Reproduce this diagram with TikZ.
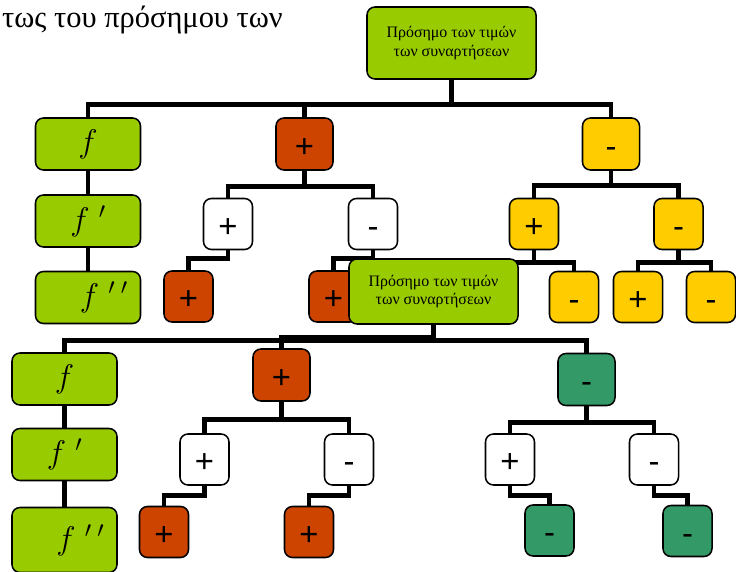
\documentclass[tikz,border=0pt]{standalone}
\usepackage{fix-cm}
\usepackage{amsmath}
\usepackage{fontspec}
\setmainfont{Liberation Serif}
\newfontfamily\signfont{Liberation Sans}
\usepackage{tikz}
\usetikzlibrary{positioning}
\usepackage{xcolor}
\definecolor{leafgreen}{RGB}{153,204,0}
\definecolor{brickred}{RGB}{204,68,0}
\definecolor{signyellow}{RGB}{255,204,0}
\definecolor{seagreen}{RGB}{51,153,102}

\begin{document}
\begin{tikzpicture}[x=0.03cm, y=-0.03cm,
  conn/.style={line width=4.2pt},
  rbox/.style={draw=black, line width=1.3pt, rounded corners=0.24cm, inner sep=0pt},
  rootbox/.style={rbox, fill=leafgreen, minimum width=5.07cm, align=center, font=\fontsize{13.6}{16}\selectfont},
  funbox/.style={rbox, fill=leafgreen, minimum width=3.15cm, minimum height=1.56cm, font=\fontsize{28}{30}\selectfont},
  bigsign/.style={rbox, minimum width=1.71cm, minimum height=1.56cm, font=\signfont\fontsize{28}{30}\selectfont, text height=22.4pt, text depth=0pt},
  smallsign/.style={bigsign, minimum width=1.47cm, minimum height=1.53cm}]

\clip (0,0) rectangle (736,572);

\node[anchor=base west, font=\fontsize{26}{30}\selectfont] (title) at (-2,28) {τως του πρόσημου των};


\begin{scope}
% first tree
\node[rootbox, minimum height=2.16cm] (rootA) at (451.5,43) {Πρόσημο των τιμών\\των συναρτήσεων};

\node[funbox] (fA) at (88,144) {$f$};
\node[funbox] (fpA) at (88,221) {$f\;'$};
\node[funbox] (fppA) at (88,297.5) {\hspace*{0.95cm}$f\;'\,{}'$};

\node[bigsign, fill=brickred] (plusA) at (304.5,144) {+};
\node[bigsign, fill=signyellow] (minusA) at (611,144) {-};

\node[smallsign, fill=white] (pwA) at (228,224) {+};
\node[smallsign, fill=white] (mwA) at (373,224) {-};
\node[smallsign, fill=signyellow] (pyA) at (534,224) {+};
\node[smallsign, fill=signyellow] (myA) at (678.5,224) {-};

\node[smallsign, fill=brickred] (prA) at (188.5,296.5) {+};
\node[smallsign, fill=brickred] (prAA) at (333.5,296.5) {+};
\node[smallsign, fill=signyellow] (myB) at (574,297) {-};
\node[smallsign, fill=signyellow] (pyB) at (638,297) {+};
\node[smallsign, fill=signyellow] (myC) at (711,297) {-};

\draw[conn] (rootA.south) -- ++(0,25) -| (fA.north);
\draw[conn] (rootA.south) -- ++(0,25) -| (plusA.north);
\draw[conn] (rootA.south) -- ++(0,25) -| (minusA.north);
\draw[conn] (fA) -- (fpA);
\draw[conn] (fpA) -- (fppA);

\draw[conn] (plusA.south) -- ++(0,16) -| (pwA.north);
\draw[conn] (plusA.south) -- ++(0,16) -| (mwA.north);
\draw[conn] (minusA.south) -- ++(0,15) -| (pyA.north);
\draw[conn] (minusA.south) -- ++(0,15) -| (myA.north);

\draw[conn] (pwA.south) -- ++(0,8) -| (prA.north);
\draw[conn] (mwA.south) -- ++(0,8) -| (prAA.north);
\draw[conn] (pyA.south) -- ++(0,12.5) coordinate (yfork) -| (myB.north);
\draw[conn] (yfork) -- ++(-30,0);
\draw[conn] (myA.south) -- ++(0,12.5) -| (pyB.north);
\draw[conn] (myA.south) -- ++(0,12.5) -| (myC.north);
\end{scope}


\begin{scope}
% second tree, on top of the first
\node[rootbox, minimum height=1.95cm] (rootB) at (433.5,291.5) {Πρόσημο των τιμών\\των συναρτήσεων};

\node[funbox] (fB) at (64.5,379) {$f$};
\node[funbox] (fpB) at (64.5,454.5) {$f\;'$};
\node[funbox, minimum height=1.95cm] (fppB) at (64.5,540) {\hspace*{0.95cm}$f\;'\,{}'$};

\node[bigsign, fill=brickred] (plusB) at (281.5,375) {+};
\node[bigsign, fill=seagreen] (minusB) at (586.5,379.5) {-};

\node[smallsign, fill=white] (pwB) at (204.5,459.5) {+};
\node[smallsign, fill=white] (mwB) at (349,459.5) {-};
\node[smallsign, fill=white] (pwC) at (510,459.5) {+};
\node[smallsign, fill=white] (mwC) at (654,459.5) {-};

\node[smallsign, fill=brickred] (prB) at (164,532) {+};
\node[smallsign, fill=brickred] (prBB) at (309,532) {+};
\node[smallsign, fill=seagreen] (mgB) at (549.5,530.5) {-};
\node[smallsign, fill=seagreen] (mgC) at (687.5,531) {-};

\draw[conn] (rootB.south) -- ++(0,15.5) -| (fB.north);
\draw[conn] (rootB.south) -- ++(0,13) -| (plusB.north);
\draw[conn] (rootB.south) -- ++(0,15.5) -| (minusB.north);
\draw[conn] (fB) -- (fpB);
\draw[conn] (fpB) -- (fppB);

\draw[conn] (plusB.south) -- ++(0,18) -| (pwB.north);
\draw[conn] (plusB.south) -- ++(0,18) -| (mwB.north);
\draw[conn] (minusB.south) -- ++(0,16) -| (pwC.north);
\draw[conn] (minusB.south) -- ++(0,16) -| (mwC.north);

\draw[conn] (pwB.south) -- ++(0,10) -| (prB.north);
\draw[conn] (mwB.south) -- ++(0,10) -| (prBB.north);
\draw[conn] (pwC.south) -- ++(0,10) -| (mgB.north);
\draw[conn] (mwC.south) -- ++(0,10) -| (mgC.north);
\end{scope}

\end{tikzpicture}
\end{document}
